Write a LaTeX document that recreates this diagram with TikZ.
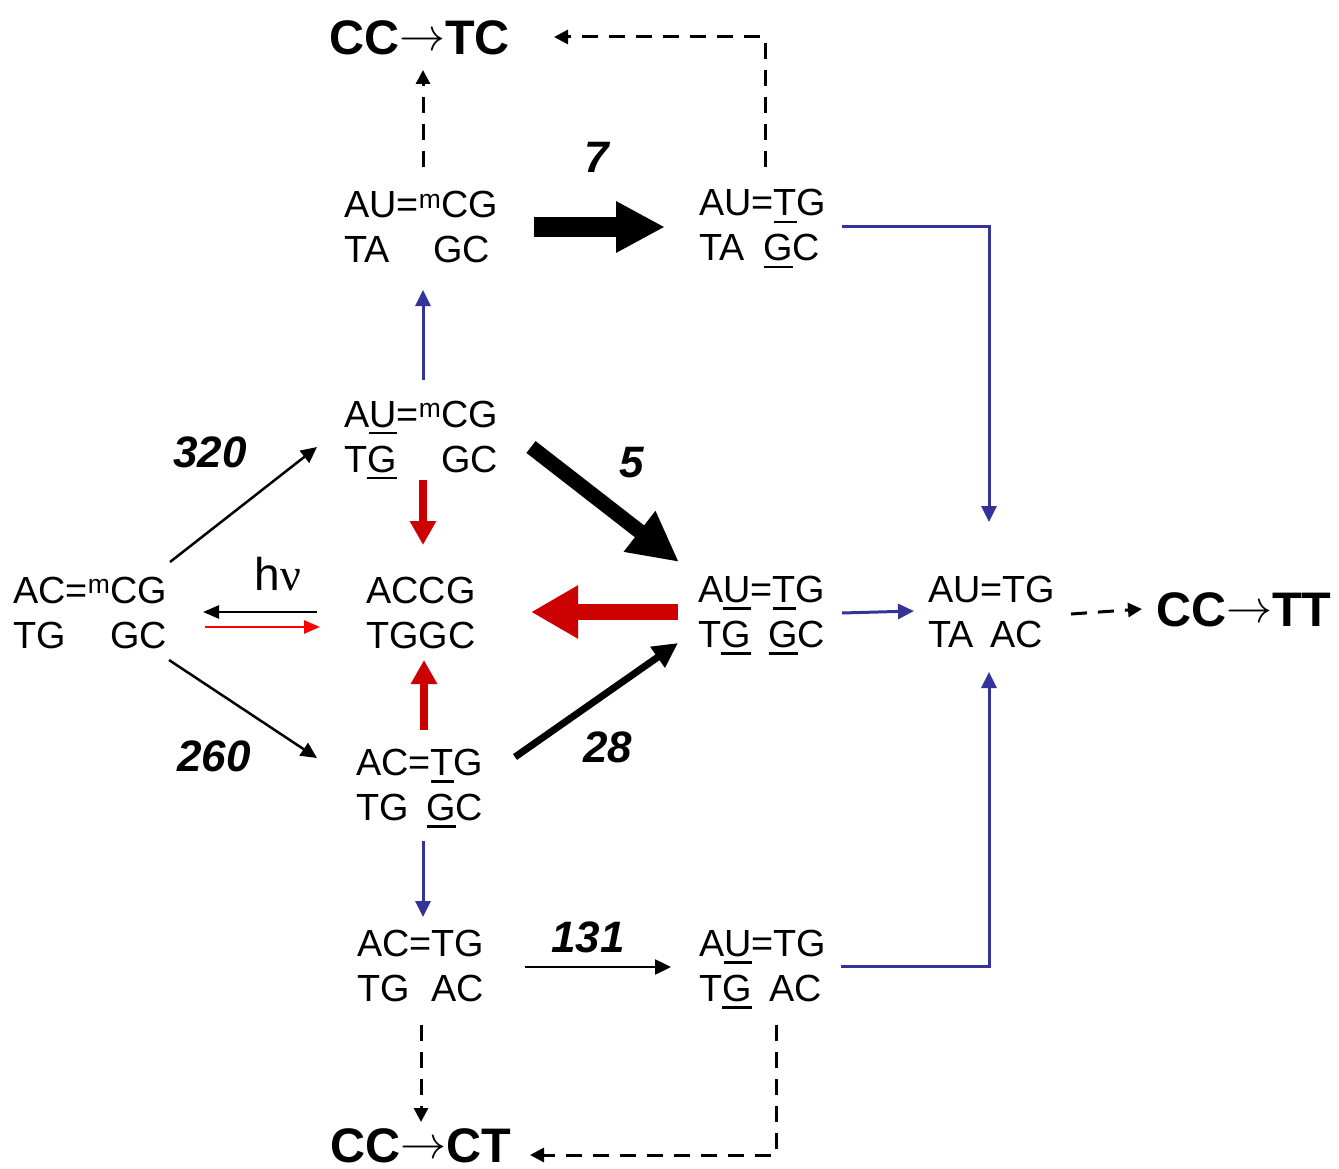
\documentclass[tikz,border=0pt]{standalone}
\usepackage{fontspec}
\setmainfont{Liberation Sans}
\newfontfamily\nufont{Liberation Serif}
\usetikzlibrary{arrows.meta}
\definecolor{pblue}{RGB}{51,51,153}
\definecolor{dred}{RGB}{204,0,0}
\definecolor{bred}{RGB}{255,0,0}
\newsavebox\lineonebox
\newlength\ulwidth
\newcommand\uln[1]{\settowidth\ulwidth{#1}\rlap{\rule[-7pt]{\ulwidth}{2.5pt}}#1}
\newcommand\dna[3]{\sbox\lineonebox{#1}\vbox{\baselineskip=45pt\lineskiplimit=-100pt\hbox{\usebox\lineonebox}\hbox to \wd\lineonebox{#2\hfill#3}}}
\newcommand\msup{\textsuperscript{m}}
\newcommand\longto{\raisebox{4pt}{\resizebox{46pt}{!}{$\rightarrow$}}}
\begin{document}
\begin{tikzpicture}[x=1pt,y=-1pt,
  dnanode/.style={font=\fontsize{37.8}{45}\selectfont, inner sep=0pt, anchor=west, text height=71pt, text depth=0pt},
  biglabel/.style={font=\fontsize{48.5}{55}\selectfont\bfseries, inner sep=0pt, anchor=west, text height=35pt, text depth=0pt},
  rate/.style={font=\fontsize{44}{50}\selectfont\bfseries\itshape, inner sep=0pt, text height=31pt, text depth=0pt},
  thinarr/.style={line width=2.5pt, -{Triangle[length=16pt,width=15pt]}},
  hvarr/.style={line width=2.5pt, -{Triangle[length=16pt,width=13pt]}},
  bluearr/.style={pblue, line width=3pt, -{Triangle[length=16pt,width=15pt]}},
  redmed/.style={dred, line width=8pt, -{Triangle[length=24pt,width=25pt]}},
  dasharr/.style={line width=3pt, dash pattern=on 16pt off 11pt, -{Triangle[length=14pt,width=14pt]}}]
\fill[white] (0,0) rectangle (1339,1169);
\useasboundingbox (0,0) rectangle (1339,1169);

% DNA nodes
\node[dnanode] (A) at (13,612.5) {\dna{AC=\msup CG}{TG}{GC}};
\node[dnanode] (B) at (344,436.5) {\dna{A\uln{U}=\msup CG}{T\uln{G}}{GC}};
\node[dnanode] (C) at (344,227) {\dna{AU=\msup CG}{TA}{GC\hspace{8pt}}};
\node[dnanode] (D) at (699,225.5) {\dna{AU=\uln{T}G}{TA}{\uln{G}C\hspace{6pt}}};
\node[dnanode] (E) at (366,612.5) {\dna{ACCG}{TGGC}{}};
\node[dnanode] (F) at (698,612) {\dna{A\uln{U}=\uln{T}G}{T\uln{G}}{\uln{G}C}};
\node[dnanode] (G) at (928,612) {\dna{AU=TG}{TA}{AC\hspace{12pt}}};
\node[dnanode] (I) at (356,785) {\dna{AC=\uln{T}G}{TG}{\uln{G}C}};
\node[dnanode] (J) at (357,966) {\dna{AC=TG}{TG}{AC}};
\node[dnanode] (K) at (699,966) {\dna{A\uln{U}=TG}{T\uln{G}}{AC\hspace{4pt}}};

% outcome labels
\node[biglabel] (L) at (329,37.5) {CC\longto TC};
\node[biglabel] (M) at (330,1145) {CC\longto CT};
\node[biglabel] (H) at (1156,608.5) {CC\longto TT};

% rate labels
\node[rate] (r320) at (210,452) {320};
\node[rate] (r260) at (214,756) {260};
\node[rate] (r5) at (632,462) {5};
\node[rate] (r28) at (608,747) {28};
\node[rate] (r7) at (597,157) {7};
\node[rate] (r131) at (588,937) {131};
\node[font=\fontsize{46}{50}\selectfont, anchor=base, inner sep=0pt] (hnu) at (278,590) {h{\nufont ν}};

% black thin
\draw[thinarr] ([shift={(157,-50.5)}]A.west) -- ([shift={(-27,10.5)}]B.west);
\draw[thinarr] ([shift={(156,47.5)}]A.west) -- ([shift={(-39,-27)}]I.west);
\draw[hvarr] ([shift={(-49,-0.5)}]E.west) -- ([shift={(190,-0.5)}]A.west);
\draw[hvarr, bred] ([shift={(192,14.5)}]A.west) -- ([shift={(-46,14.5)}]E.west);
\draw[thinarr] ([shift={(168,1)}]J.west) -- ([shift={(-28,1)}]K.west);

% blue
\draw[bluearr] ([shift={(79,-56.5)}]B.west) -- ([shift={(79,63)}]C.west);
\draw[bluearr] ([shift={(67,56)}]I.west) -- ([shift={(66,-49)}]J.west);
\draw[bluearr] ([shift={(144,1)}]F.west) -- ([shift={(-14,-1)}]G.west);
\draw[bluearr] ([shift={(143,1.5)}]D.west) -| ([shift={(61,-90)}]G.west);
\draw[bluearr] ([shift={(142,0)}]K.west) -| ([shift={(61,60)}]G.west);

% red
\draw[redmed] ([shift={(79,43.5)}]B.west) -- ([shift={(57,-67.5)}]E.west);
\draw[redmed] ([shift={(68,-55)}]I.west) -- ([shift={(58,47.5)}]E.west);
\draw[dred, line width=16pt, -{Triangle[length=47pt,width=50pt]}] ([shift={(-20,0)}]F.west) -- ([shift={(165,-0.5)}]E.west);

% thick black
\draw[line width=15pt, -{Triangle[length=50pt,width=48pt]}] ([shift={(187,10.5)}]B.west) -- ([shift={(-19,-50)}]F.west);
\draw[line width=7pt, -{Triangle[length=25pt,width=24pt]}] ([shift={(159,-28)}]I.west) -- ([shift={(-20,31)}]F.west);
\draw[line width=20pt, -{Triangle[length=49pt,width=48pt]}] ([shift={(190,0)}]C.west) -- ([shift={(-34,1.5)}]D.west);

% dashed
\draw[dasharr] ([shift={(79,-60)}]C.west) -- ([shift={(94,32.5)}]L.west);
\draw[dasharr] ([shift={(66,-58.5)}]D.west) |- ([shift={(225,-0.5)}]L.west);
\draw[dasharr] ([shift={(143,2)}]G.west) -- ([shift={(-14,0.5)}]H.west);
\draw[dasharr] ([shift={(64,59)}]J.west) -- ([shift={(91,-23)}]M.west);
\draw[dasharr] ([shift={(77,59)}]K.west) |- ([shift={(200,10)}]M.west);
\end{tikzpicture}
\end{document}
